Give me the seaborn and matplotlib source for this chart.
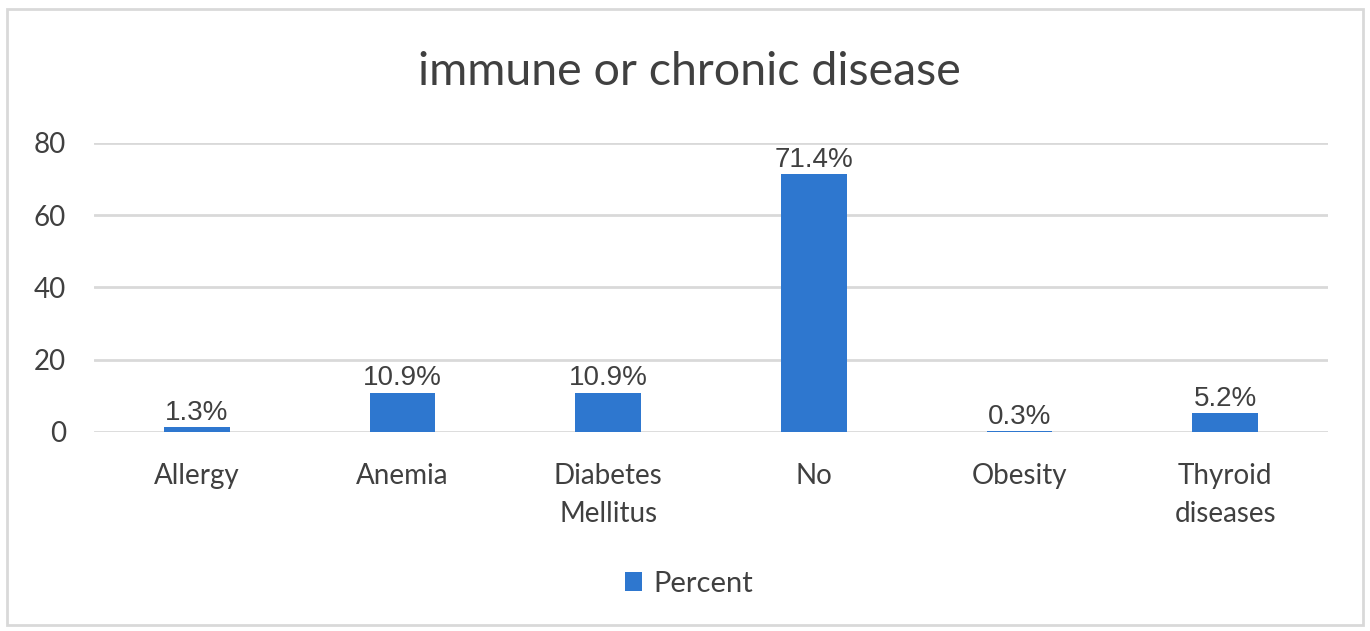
import matplotlib
matplotlib.use("Agg")
import matplotlib.pyplot as plt
import seaborn as sns
import pandas as pd
from matplotlib.patches import Rectangle

categories = ["Allergy", "Anemia", "Diabetes\nMellitus", "No", "Obesity", "Thyroid\ndiseases"]
percent = [1.3, 10.9, 10.9, 71.4, 0.3, 5.2]
yticks = [0, 20, 40, 60, 80]
title = "immune or chronic disease"
series_name = "Percent"

sns.set_theme(style="white")
plt.rcParams['font.family'] = ['Lato', 'DejaVu Sans']

df = pd.DataFrame({"cat": categories, "val": percent})
bar_color = "#2E77CF"
text_color = "#404040"

fig = plt.figure(figsize=(13.7, 6.31), dpi=100)
ax = fig.add_axes([0.0686, 0.3154, 0.9007, 0.458])
sns.barplot(data=df, x="cat", y="val", color=bar_color, width=0.32,
            saturation=1, ax=ax, label=series_name)
if ax.get_legend() is not None:
    ax.get_legend().remove()

ax.set_ylim(0, 80)
ax.set_yticks(yticks)
ax.set_xlim(-0.5, len(categories) - 0.5)
ax.yaxis.grid(True, color="#D9D9D9", linewidth=2, zorder=0)
ax.set_axisbelow(True)
for b in ax.patches:
    b.set_zorder(3)
    b.set_linewidth(0)
for s in ax.spines.values():
    s.set_visible(False)
ax.tick_params(axis="both", length=0, labelsize=20, colors=text_color)
ax.tick_params(axis="x", pad=22)
ax.tick_params(axis="y", pad=20)
for t in ax.get_xticklabels():
    t.set_linespacing(1.6)
ax.set_xlabel("")
ax.set_ylabel("")

labels = [f"{v:.1f}%" for v in percent]
ax.bar_label(ax.containers[0], labels=labels, padding=1, fontsize=20,
             color=text_color, family=["Liberation Sans", "DejaVu Sans"], zorder=4)

fig.text(0.503, 0.886, title, ha="center", va="center", fontsize=33.5, color=text_color)

handles, lbls = ax.get_legend_handles_labels()
fig.legend(handles, lbls, loc="center", bbox_to_anchor=(0.503, 0.075), frameon=False,
           fontsize=21, handlelength=0.6, handleheight=0.6, handletextpad=0.4,
           labelcolor=text_color)

fig.patches.append(Rectangle((0.005, 0.01), 0.99, 0.975, transform=fig.transFigure,
                             fill=False, edgecolor="#D9D9D9", linewidth=2))

fig.savefig("out.png", dpi=100, facecolor="white")
